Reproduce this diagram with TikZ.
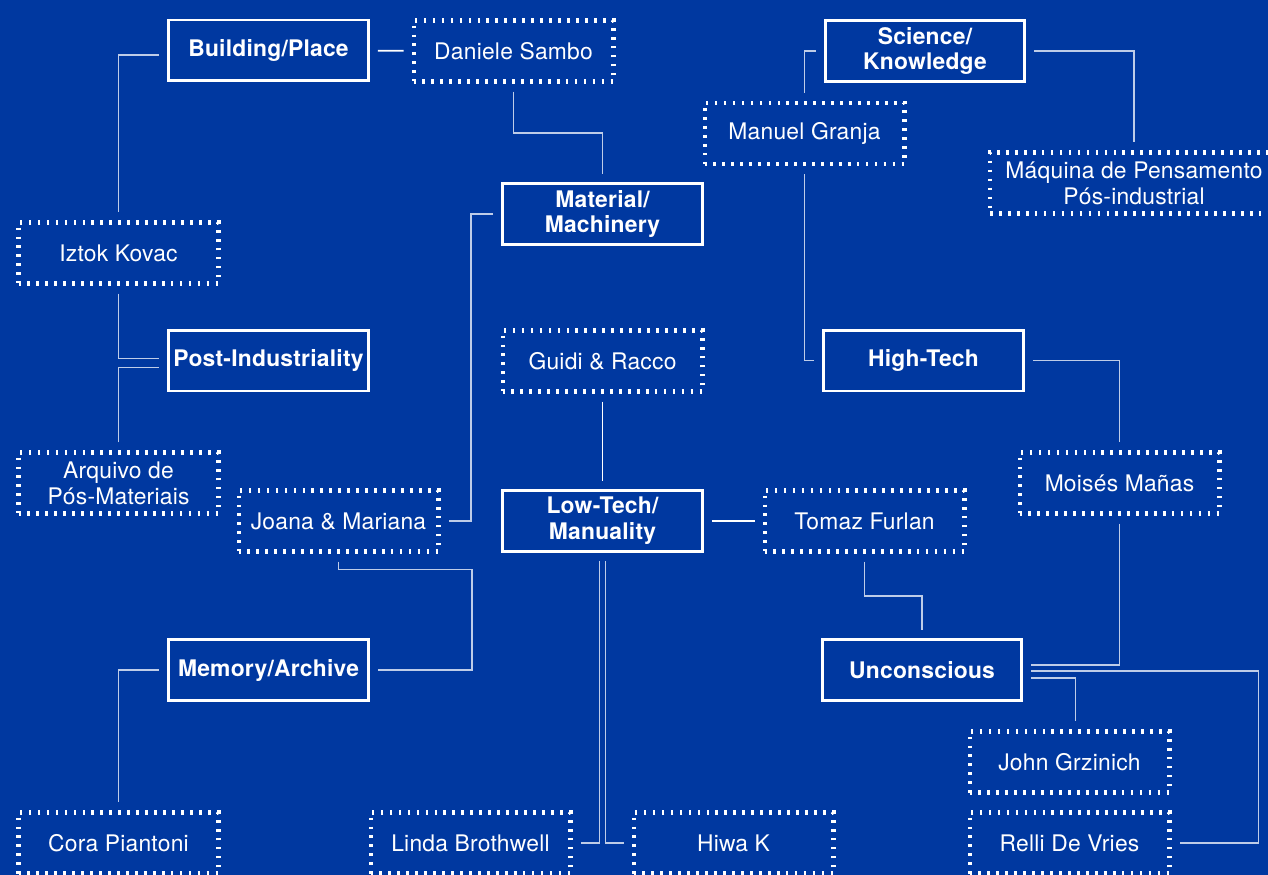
\documentclass[tikz,border=0pt]{standalone}
\usepackage{fontspec}
\setmainfont[LetterSpace=1]{TeX Gyre Heros}
\usetikzlibrary{calc}

\definecolor{bgblue}{RGB}{0,56,160}
\definecolor{linegrey}{RGB}{190,204,232}

\begin{document}
\begin{tikzpicture}[x=0.02cm,y=-0.02cm,
    every node/.style={text=white,font=\fontsize{13}{14.7}\selectfont,align=center,
        minimum width=4cm,minimum height=1.22cm,inner sep=0pt},
    topic/.style={draw=white,line width=1.7pt,font=\fontsize{13}{14.7}\selectfont\bfseries},
    artist/.style={draw=white,line width=2.3pt,dash pattern=on 1.5pt off 3.6pt},
    conn/.style={draw=linegrey,line width=0.85pt,shorten <=0.16cm,shorten >=0.16cm},
    conn bright/.style={conn,draw=white,line width=1.1pt}]

    \useasboundingbox (0,0) rectangle (1268,875);
    \clip (0,0) rectangle (1268,875);
    \fill[bgblue] (0,0) rectangle (1268,875);

    % themes
    \node[topic] (bp) at (268.5,50.5) {Building/Place};
    \node[topic] (mm) at (602.5,214) {Material/\\Machinery};
    \node[topic] (sk) at (925,51) {Science/\\Knowledge};
    \node[topic] (pi) at (268.5,360.5) {Post-Industriality};
    \node[topic] (ht) at (923.5,360.5) {High-Tech};
    \node[topic] (lt) at (602.5,521) {Low-Tech/\\Manuality};
    \node[topic] (ma) at (268.5,670) {Memory/Archive};
    \node[topic] (un) at (922,670) {Unconscious};

    % artists
    \node[artist] (sambo) at (513.5,51) {Daniele Sambo};
    \node[artist] (granja) at (804.5,133.5) {Manuel Granja};
    \node[artist,minimum width=5.76cm] (maquina) at (1134,183) {Máquina de Pensamento\\Pós-industrial};
    \node[artist] (kovac) at (118.5,253) {Iztok Kovac};
    \node[artist] (arquivo) at (118.5,483) {Arquivo de\\Pós-Materiais};
    \node[artist] (guidi) at (602.5,361) {Guidi \& Racco};
    \node[artist] (joana) at (338.5,521) {Joana \& Mariana};
    \node[artist] (furlan) at (864.5,521) {Tomaz Furlan};
    \node[artist] (manas) at (1119.5,483) {Moisés Mañas};
    \node[artist] (grzinich) at (1069.5,762) {John Grzinich};
    \node[artist] (piantoni) at (118.5,843) {Cora Piantoni};
    \node[artist] (brothwell) at (470.5,843) {Linda Brothwell};
    \node[artist] (hiwa) at (733.5,843) {Hiwa K};
    \node[artist] (vries) at (1069.5,843) {Relli De Vries};

    % connectors
    \draw[conn bright] (bp) -- (sambo);
    \draw[conn] ([yshift=-0.09cm]bp.west) -| (kovac.north);
    \draw[conn] (kovac.south) |- ([yshift=0.04cm]pi.west);
    \draw[conn] (arquivo.north) |- ([yshift=-0.14cm]pi.west);
    \draw[conn] (sambo.south) |- ($(sambo.south)!.5!(mm.north)$) -| (mm.north);
    \draw[conn] (mm.west) -| ($(mm.west)!.5!(joana.east)$) |- (joana.east);
    \draw[conn] (sk.west) -| (granja.north);
    \draw[conn] (sk.east) -| (maquina.north);
    \draw[conn] (granja.south) |- (ht.west);
    \draw[conn] (ht.east) -| (manas.north);
    \draw[conn bright] (guidi) -- (lt);
    \draw[conn bright] (lt) -- (furlan);
    \draw[conn] ([xshift=-0.06cm]lt.south) |- (brothwell.east);
    \draw[conn] ([xshift=0.06cm]lt.south) |- (hiwa.west);
    \draw[conn] (joana.south) -- ++(0,16) -| ($(ma.east)+(102,0)$) -- (ma.east);
    \draw[conn] (ma.west) -| (piantoni.north);
    \draw[conn] (furlan.south) |- ($(furlan.south)!.5!(un.north)$) -| (un.north);
    \draw[conn] (manas.south) |- ([yshift=0.1cm]un.east);
    \draw[conn] ([yshift=-0.02cm]un.east) -| ($(vries.east)+(87,0)$) -- (vries.east);
    \draw[conn] ([yshift=-0.16cm]un.east) -| ([xshift=0.12cm]grzinich.north);

\end{tikzpicture}
\end{document}
